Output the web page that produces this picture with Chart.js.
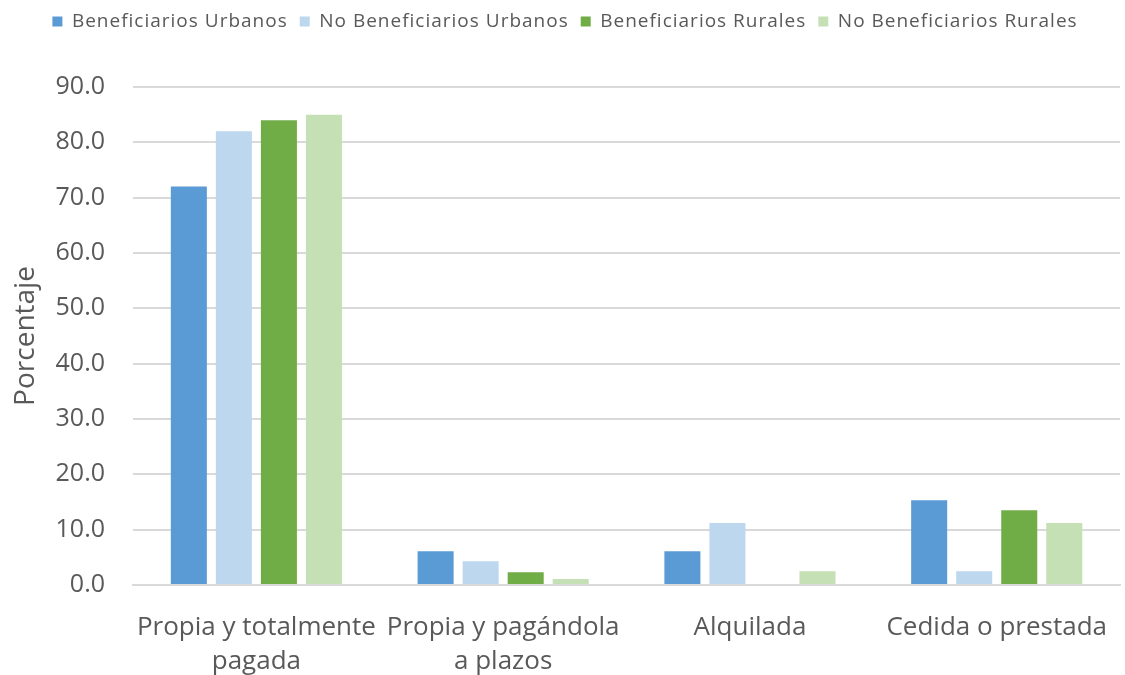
<!DOCTYPE html>
<html>
<head>
<meta charset="utf-8">
<script src="https://cdn.jsdelivr.net/npm/chart.js@4/dist/chart.umd.min.js"></script>
<style>
html,body{margin:0;padding:0;background:#fff;}
#wrap{width:1125px;height:675px;}
</style>
</head>
<body>
<div id="wrap"><canvas id="c" width="1125" height="675"></canvas></div>
<script>
const categories = [["Propia y totalmente","pagada"],["Propia y pagándola","a plazos"],"Alquilada","Cedida o prestada"];
const seriesNames = ["Beneficiarios Urbanos","No Beneficiarios Urbanos","Beneficiarios Rurales","No Beneficiarios Rurales"];
const benefUrbanos = [72.0, 6.1, 6.1, 15.3];
const noBenefUrbanos = [82.0, 4.3, 11.2, 2.5];
const benefRurales = [84.0, 2.3, 0.0, 13.5];
const noBenefRurales = [85.0, 1.1, 2.5, 11.2];
const colors = ["#5b9bd5","#bdd7ee","#70ad47","#c5e0b4"];
const values = [benefUrbanos, noBenefUrbanos, benefRurales, noBenefRurales];

const font = "'Open Sans', 'Noto Sans', sans-serif";
const legendSpace = {
  id: 'legendSpace',
  beforeInit(chart) {
    const lg = chart.legend;
    const origFit = lg.fit;
    const origDraw = lg.draw;
    lg.fit = function() {
      const ctx = chart.ctx; const prev = ctx.letterSpacing;
      ctx.letterSpacing = '1px';
      origFit.apply(lg, arguments);
      ctx.letterSpacing = prev || '0px';
      this.height += 46;
    };
    lg.draw = function() {
      const ctx = chart.ctx; const prev = ctx.letterSpacing;
      ctx.letterSpacing = '1px';
      origDraw.apply(lg, arguments);
      ctx.letterSpacing = prev || '0px';
    };
  }
};
new Chart(document.getElementById('c'), {
  type: 'bar',
  data: {
    labels: categories,
    datasets: seriesNames.map((n,i)=>({
      label: n,
      data: values[i],
      backgroundColor: colors[i],
      borderWidth: 0,
      categoryPercentage: 0.73,
      barPercentage: 0.8
    }))
  },
  options: {
    responsive: false,
    animation: false,
    layout: {padding: {left: 5, right: 0, top: 0, bottom: 0}},
    plugins: {
      legend: {
        position: 'top',
        labels: {
          boxWidth: 10, boxHeight: 10, padding: 12,
          color: '#595959',
          font: {family: font, size: 19}
        }
      },
      tooltip: {enabled: false}
    },
    scales: {
      x: {
        grid: {display: false},
        border: {color: '#d9d9d9', width: 2},
        ticks: {color: '#595959', font: {family: font, size: 26, lineHeight: 1.3}, padding: 18, maxRotation: 0, autoSkip: false},
        afterFit(scale) { scale.height = 90; }
      },
      y: {
        min: 0, max: 90,
        grid: {color: '#d9d9d9', lineWidth: 2, drawTicks: false},
        border: {display: false},
        ticks: {stepSize: 10, color: '#595959', font: {family: font, size: 25}, padding: 28,
          callback: v => v.toFixed(1)},
        title: {display: true, text: 'Porcentaje', color: '#595959', font: {family: font, size: 28}, padding: {bottom: 0}},
        afterFit(scale) { scale.width = 128; }
      }
    }
  },
  plugins: [legendSpace]
});
</script>
</body>
</html>
